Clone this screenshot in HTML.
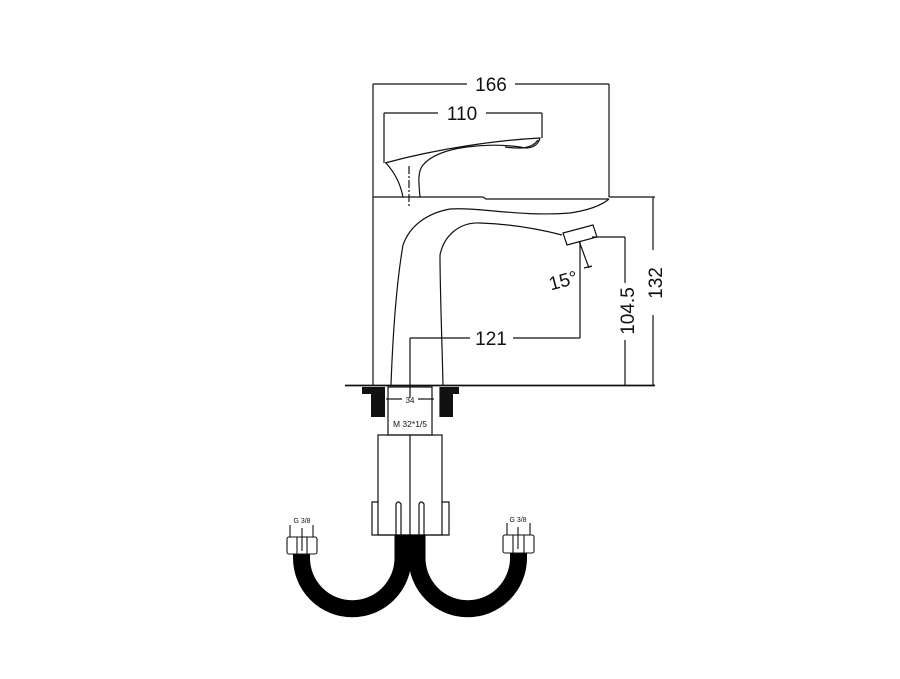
<!DOCTYPE html>
<html><head><meta charset="utf-8"><style>
html,body{margin:0;padding:0;background:#fff;}
svg{display:block;}
text{font-family:"Liberation Sans",sans-serif;fill:#111;}
</style></head><body>
<svg width="900" height="679" viewBox="0 0 900 679" xmlns="http://www.w3.org/2000/svg">
<g fill="none" stroke="#111" stroke-width="1.2">
<line x1="373" y1="84" x2="373" y2="385"/>
<line x1="609" y1="84" x2="609" y2="197"/>
<line x1="373" y1="84" x2="467" y2="84"/>
<line x1="515" y1="84" x2="609" y2="84"/>
<line x1="384" y1="113" x2="384" y2="163"/>
<line x1="542" y1="113" x2="542" y2="138"/>
<line x1="384" y1="113" x2="438" y2="113"/>
<line x1="486" y1="113" x2="542" y2="113"/>
<path d="M385,163 C440,148 500,140 540,138 C538,146 530,150 520,147 C490,143 440,145 423,165 C417,172 419,185 420,197"/>
<path d="M386,163 C394,172 400,182 403,197"/>
<path d="M505,147 C520,149 532,149 538,140"/>
<line x1="409" y1="166" x2="409" y2="208" stroke-dasharray="8,2,2,2"/>
<path d="M373,197 L483,197 L486,199 L609,199"/>
<line x1="609" y1="197" x2="655" y2="197"/>
<path d="M391,385 C393,330 397,280 403,245 C410,225 428,213 450,209 C480,207 520,217 570,213 C590,210 602,205 609,199"/>
<path d="M443,385 C442,340 440,290 440,255 C444,235 460,222 480,223 C510,224 535,228 562,235"/>
<path d="M563,233 L593,225 L597,237 L567,245 Z"/>
<line x1="579" y1="241" x2="589" y2="268"/>
<line x1="584" y1="268" x2="592" y2="266"/>
<line x1="410" y1="338" x2="410" y2="398"/>
<line x1="410" y1="338" x2="470" y2="338"/>
<line x1="513" y1="338" x2="580" y2="338"/>
<line x1="580" y1="241" x2="580" y2="338"/>
<line x1="592" y1="237" x2="625" y2="237"/>
<line x1="625" y1="237" x2="625" y2="283"/>
<line x1="625" y1="340" x2="625" y2="385"/>
<line x1="653" y1="197" x2="653" y2="250"/>
<line x1="653" y1="315" x2="653" y2="385"/>
<line x1="345" y1="385.5" x2="655" y2="385.5" stroke-width="1.8"/>
<rect x="388" y="387" width="44" height="48"/>
<line x1="380" y1="387" x2="380" y2="417"/>
<line x1="440" y1="387" x2="440" y2="417"/>
<line x1="386" y1="399" x2="402" y2="399"/>
<line x1="418" y1="399" x2="434" y2="399"/>
<rect x="378" y="435" width="64" height="100"/>
<line x1="410" y1="435" x2="410" y2="535"/>
<path d="M378,502 L372,502 L372,535 L449,535 L449,502 L442,502"/>
<path d="M396,535 L396,504 Q398,500 401,504 L401,535"/>
<path d="M419,535 L419,504 Q421,500 424,504 L424,535"/>
</g>
<path d="M362,387 L385,387 L385,417 L371,417 L371,394 L362,394 Z" fill="#111"/>
<path d="M440,387 L459,387 L459,394 L453,394 L453,417 L440,417 Z" fill="#111"/>
<g fill="none" stroke="#000" stroke-width="17">
<path d="M403,535 L403,558 A50.75,50.75 0 0 1 301.5,558 L301.5,552"/>
<path d="M417,535 L417,558 A50.75,50.75 0 0 0 518.5,558 L518.5,550"/>
</g>
<g fill="#fff" stroke="#111" stroke-width="1.1">
<rect x="287" y="537" width="30" height="17" rx="2"/>
<rect x="503" y="535" width="31" height="18" rx="2"/>
<line x1="297" y1="537" x2="297" y2="554"/><line x1="307" y1="537" x2="307" y2="554"/>
<line x1="513" y1="535" x2="513" y2="553"/><line x1="524" y1="535" x2="524" y2="553"/>
<line x1="290" y1="525" x2="290" y2="537"/><line x1="313" y1="525" x2="313" y2="537"/><line x1="302" y1="528" x2="302" y2="551"/>
<line x1="507" y1="523" x2="507" y2="535"/><line x1="530" y1="523" x2="530" y2="535"/><line x1="518" y1="527" x2="518" y2="549"/>
</g>
<text x="491" y="91" font-size="19" text-anchor="middle">166</text>
<text x="462" y="120" font-size="19" text-anchor="middle">110</text>
<text x="491" y="345" font-size="19" text-anchor="middle">121</text>
<text x="563" y="287" font-size="19" text-anchor="middle" transform="rotate(-15 563 280)">15°</text>
<text font-size="19" text-anchor="middle" transform="translate(634 311) rotate(-90)">104.5</text>
<text font-size="19" text-anchor="middle" transform="translate(662 283) rotate(-90)">132</text>
<text x="410" y="403" font-size="8" text-anchor="middle">34</text>
<text x="410" y="427" font-size="8.5" text-anchor="middle">M 32*1/5</text>
<text x="302" y="523" font-size="7" text-anchor="middle">G 3/8</text>
<text x="518" y="522" font-size="7" text-anchor="middle">G 3/8</text>
</svg>
</body></html>
